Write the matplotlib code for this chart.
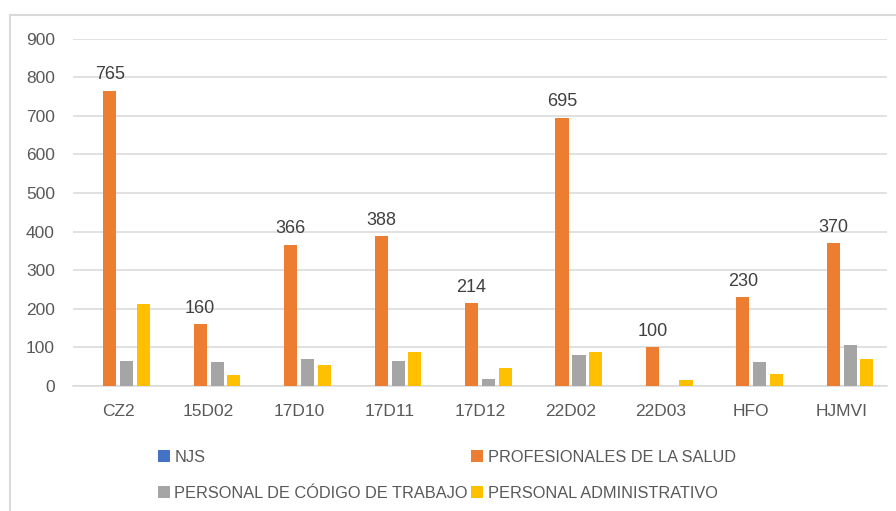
import matplotlib
matplotlib.use("Agg")
import matplotlib.pyplot as plt
import numpy as np
from matplotlib.lines import Line2D

plt.rcParams["font.family"] = ["Liberation Sans", "DejaVu Sans"]

categories = ["CZ2", "15D02", "17D10", "17D11", "17D12", "22D02", "22D03", "HFO", "HJMVI"]
njs = [0, 0, 0, 0, 0, 0, 0, 0, 0]
profesionales = [765, 160, 366, 388, 214, 695, 100, 230, 370]
codigo_trabajo = [65, 62, 70, 65, 18, 81, 0, 63, 105]
administrativo = [213, 29, 54, 87, 46, 87, 16, 31, 70]

series = [
    ("NJS", njs, "#4472C4"),
    ("PROFESIONALES DE LA SALUD", profesionales, "#ED7D31"),
    ("PERSONAL DE CÓDIGO DE TRABAJO", codigo_trabajo, "#A5A5A5"),
    ("PERSONAL ADMINISTRATIVO", administrativo, "#FFC000"),
]

TXT = "#595959"
GRID = "#D9D9D9"

fig = plt.figure(figsize=(8.96, 5.11), dpi=100)
ax = fig.add_axes([0.0815, 0.2446, 0.9085, 0.6797])

x = np.arange(len(categories))
offsets = [-0.277, -0.094, 0.094, 0.277]
w = 0.145
handles = {}
for (name, vals, col), off in zip(series, offsets):
    bars = ax.bar(x + off, vals, w, color=col, label=name, zorder=3)
    handles[name] = bars
    if name.startswith("PROFESIONALES"):
        for xi, v in zip(x + off, vals):
            ax.text(xi, v + 20, str(v), ha="center", va="bottom",
                    fontsize=13, color="#404040")

ax.set_xlim(-0.5, len(categories) - 0.5)
ax.set_ylim(0, 900)
ax.set_yticks(range(0, 901, 100))
ax.set_xticks(x)
ax.set_xticklabels(categories)
ax.tick_params(axis="y", length=0, pad=13, labelsize=12.5, labelcolor=TXT)
ax.tick_params(axis="x", length=0, pad=13, labelsize=12.5, labelcolor=TXT)
ax.grid(axis="y", color=GRID, lw=1.1, zorder=0)
for s in ("top", "right", "left"):
    ax.spines[s].set_visible(False)
ax.spines["bottom"].set_color(GRID)
ax.spines["bottom"].set_linewidth(1.1)

order = ["NJS", "PERSONAL DE CÓDIGO DE TRABAJO",
         "PROFESIONALES DE LA SALUD", "PERSONAL ADMINISTRATIVO"]
fig.legend([handles[n] for n in order], order, ncol=2, frameon=False,
           loc="center left", bbox_to_anchor=(0.16, 0.07),
           fontsize=11.8, labelcolor=TXT, handlelength=0.7, handleheight=0.7,
           handletextpad=0.3, columnspacing=0.2, labelspacing=1.3)

# outer chart frame (left and top edges visible)
fig.add_artist(Line2D([10 / 896, 10 / 896], [0, 1 - 15 / 511],
                      transform=fig.transFigure, color=GRID, lw=1.5))
fig.add_artist(Line2D([10 / 896, 1], [1 - 15 / 511, 1 - 15 / 511],
                      transform=fig.transFigure, color=GRID, lw=1.5))

fig.savefig("out.png", dpi=100, facecolor="white")
